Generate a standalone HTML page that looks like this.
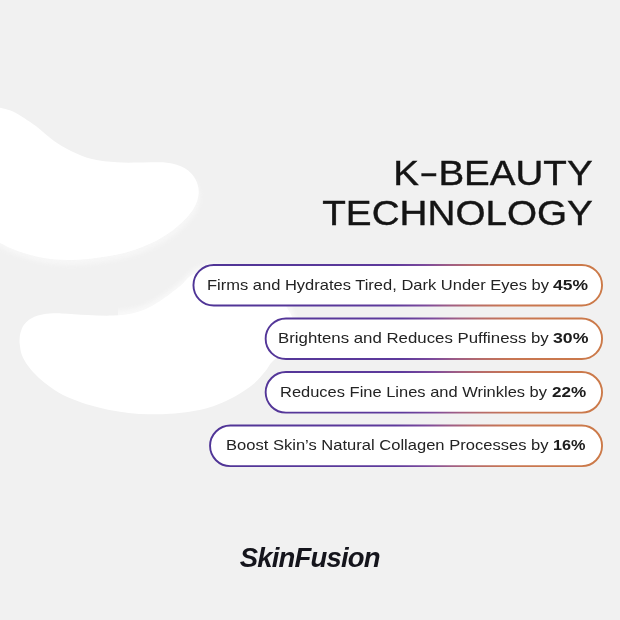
<!DOCTYPE html>
<html><head><meta charset="utf-8">
<style>
*{margin:0;padding:0;box-sizing:border-box}
html,body{width:620px;height:620px;overflow:hidden;background:#f1f1f1}
body{position:relative;font-family:"Liberation Sans",sans-serif;color:#1a1a1a}
svg.bg{position:absolute;left:0;top:0}
.t{position:absolute;font-size:35.7px;line-height:40px;color:#141414;-webkit-text-stroke:.4px #141414;white-space:nowrap;transform-origin:right top}
.t .d{display:inline-block;width:18px;text-align:center}
.t .d i{display:inline-block;font-style:normal;transform:scale(1.5,.95);position:relative;left:.3px;top:.6px}
.x{position:absolute;font-size:15px;line-height:20px;color:#232323;white-space:nowrap;transform-origin:left top}
.x.b{font-weight:700;color:#1c1c1c}
.logo{position:absolute;left:239.8px;top:542px;font-size:27.5px;line-height:32px;font-weight:700;font-style:italic;letter-spacing:-.82px;color:#15151c;white-space:nowrap}
</style></head><body>
<svg class="bg" width="620" height="620" viewBox="0 0 620 620">
<defs><filter id="bl" x="-20%" y="-20%" width="140%" height="140%"><feGaussianBlur stdDeviation="2.2"/></filter><clipPath id="cr"><rect x="118" y="240" width="200" height="90"/></clipPath></defs>
<path d="M-10.0 106.0 C-8.3 106.3 -4.0 106.7 0.0 107.7 C4.0 108.7 8.1 109.0 14.0 112.0 C19.9 115.0 29.0 121.1 35.5 125.8 C42.0 130.5 47.1 136.1 53.0 140.3 C58.9 144.5 64.5 147.9 71.0 151.0 C77.5 154.1 84.3 157.1 92.0 159.0 C99.7 160.9 108.7 161.7 117.0 162.3 C125.3 162.9 133.7 162.5 142.0 162.6 C150.3 162.7 159.9 161.9 167.0 162.8 C174.1 163.7 179.8 165.4 184.5 168.0 C189.2 170.6 192.6 174.3 195.0 178.5 C197.4 182.7 199.0 187.9 198.7 193.0 C198.4 198.1 196.9 203.4 193.4 209.0 C189.9 214.6 183.6 221.3 177.4 226.6 C171.2 231.9 164.3 236.8 156.0 241.0 C147.7 245.2 137.2 249.2 127.8 252.0 C118.4 254.8 108.9 256.2 99.4 257.5 C89.9 258.8 80.5 259.9 71.0 260.0 C61.5 260.1 51.5 259.3 42.6 257.8 C33.7 256.3 24.8 253.5 17.7 251.0 C10.6 248.5 4.6 245.2 0.0 243.0 C-4.6 240.8 -8.3 238.8 -10.0 238.0 Z" fill="#fff" opacity=".4" filter="url(#bl)" transform="translate(1.5 5)"/>
<g clip-path="url(#cr)"><path d="M19.5 342.6 C19.6 341.1 19.5 336.5 20.3 333.5 C21.1 330.5 22.2 327.1 24.2 324.5 C26.1 321.9 28.8 319.7 32.0 318.0 C35.2 316.3 38.6 315.0 43.5 314.2 C48.4 313.4 54.3 313.3 61.6 313.4 C68.9 313.5 78.8 314.6 87.4 315.0 C96.0 315.4 105.2 315.9 113.0 315.5 C120.8 315.1 127.8 314.3 133.9 312.9 C140.0 311.5 144.6 309.5 149.4 307.2 C154.2 304.9 157.7 302.7 163.0 299.0 C168.3 295.3 175.9 289.4 181.0 285.2 C186.1 281.0 187.7 276.9 193.4 274.0 C199.1 271.1 205.6 267.7 215.0 268.0 C224.4 268.3 240.0 272.3 250.0 276.0 C260.0 279.7 269.0 285.0 275.0 290.0 C281.0 295.0 282.7 300.2 286.0 306.0 C289.3 311.8 294.0 318.5 295.0 325.0 C296.0 331.5 295.7 339.0 292.0 345.0 C288.3 351.0 277.4 356.7 273.0 361.0 C268.6 365.3 268.8 367.2 265.5 371.0 C262.2 374.8 258.2 380.0 253.5 384.0 C248.8 388.0 242.8 391.8 237.5 395.0 C232.2 398.2 226.9 400.7 221.5 403.0 C216.1 405.3 210.6 407.2 205.0 408.7 C199.4 410.2 193.8 411.1 188.0 412.0 C182.2 412.9 176.4 413.4 170.0 413.8 C163.6 414.2 156.3 414.4 149.4 414.3 C142.5 414.2 135.6 413.8 128.7 413.0 C121.8 412.2 114.9 411.1 108.0 409.7 C101.1 408.3 94.3 406.6 87.4 404.5 C80.5 402.4 72.8 399.6 66.8 396.8 C60.8 394.0 56.0 390.9 51.3 387.7 C46.6 384.5 42.3 381.0 38.4 377.4 C34.5 373.8 30.8 369.7 28.0 365.8 C25.2 361.9 23.0 358.1 21.6 354.2 C20.2 350.3 19.9 344.5 19.5 342.6 Z" fill="#fff" opacity=".5" filter="url(#bl)" transform="translate(1 -5)"/></g>
<path d="M-10.0 106.0 C-8.3 106.3 -4.0 106.7 0.0 107.7 C4.0 108.7 8.1 109.0 14.0 112.0 C19.9 115.0 29.0 121.1 35.5 125.8 C42.0 130.5 47.1 136.1 53.0 140.3 C58.9 144.5 64.5 147.9 71.0 151.0 C77.5 154.1 84.3 157.1 92.0 159.0 C99.7 160.9 108.7 161.7 117.0 162.3 C125.3 162.9 133.7 162.5 142.0 162.6 C150.3 162.7 159.9 161.9 167.0 162.8 C174.1 163.7 179.8 165.4 184.5 168.0 C189.2 170.6 192.6 174.3 195.0 178.5 C197.4 182.7 199.0 187.9 198.7 193.0 C198.4 198.1 196.9 203.4 193.4 209.0 C189.9 214.6 183.6 221.3 177.4 226.6 C171.2 231.9 164.3 236.8 156.0 241.0 C147.7 245.2 137.2 249.2 127.8 252.0 C118.4 254.8 108.9 256.2 99.4 257.5 C89.9 258.8 80.5 259.9 71.0 260.0 C61.5 260.1 51.5 259.3 42.6 257.8 C33.7 256.3 24.8 253.5 17.7 251.0 C10.6 248.5 4.6 245.2 0.0 243.0 C-4.6 240.8 -8.3 238.8 -10.0 238.0 Z" fill="#fff"/>
<path d="M19.5 342.6 C19.6 341.1 19.5 336.5 20.3 333.5 C21.1 330.5 22.2 327.1 24.2 324.5 C26.1 321.9 28.8 319.7 32.0 318.0 C35.2 316.3 38.6 315.0 43.5 314.2 C48.4 313.4 54.3 313.3 61.6 313.4 C68.9 313.5 78.8 314.6 87.4 315.0 C96.0 315.4 105.2 315.9 113.0 315.5 C120.8 315.1 127.8 314.3 133.9 312.9 C140.0 311.5 144.6 309.5 149.4 307.2 C154.2 304.9 157.7 302.7 163.0 299.0 C168.3 295.3 175.9 289.4 181.0 285.2 C186.1 281.0 187.7 276.9 193.4 274.0 C199.1 271.1 205.6 267.7 215.0 268.0 C224.4 268.3 240.0 272.3 250.0 276.0 C260.0 279.7 269.0 285.0 275.0 290.0 C281.0 295.0 282.7 300.2 286.0 306.0 C289.3 311.8 294.0 318.5 295.0 325.0 C296.0 331.5 295.7 339.0 292.0 345.0 C288.3 351.0 277.4 356.7 273.0 361.0 C268.6 365.3 268.8 367.2 265.5 371.0 C262.2 374.8 258.2 380.0 253.5 384.0 C248.8 388.0 242.8 391.8 237.5 395.0 C232.2 398.2 226.9 400.7 221.5 403.0 C216.1 405.3 210.6 407.2 205.0 408.7 C199.4 410.2 193.8 411.1 188.0 412.0 C182.2 412.9 176.4 413.4 170.0 413.8 C163.6 414.2 156.3 414.4 149.4 414.3 C142.5 414.2 135.6 413.8 128.7 413.0 C121.8 412.2 114.9 411.1 108.0 409.7 C101.1 408.3 94.3 406.6 87.4 404.5 C80.5 402.4 72.8 399.6 66.8 396.8 C60.8 394.0 56.0 390.9 51.3 387.7 C46.6 384.5 42.3 381.0 38.4 377.4 C34.5 373.8 30.8 369.7 28.0 365.8 C25.2 361.9 23.0 358.1 21.6 354.2 C20.2 350.3 19.9 344.5 19.5 342.6 Z" fill="#fff"/>
<linearGradient id="g264" gradientUnits="userSpaceOnUse" x1="192.1" y1="0" x2="603.1" y2="0"><stop offset="0" stop-color="#4e3496"/><stop offset=".49" stop-color="#5e3a9c"/><stop offset=".567" stop-color="#7c4a9c"/><stop offset=".628" stop-color="#a05e84"/><stop offset=".689" stop-color="#b86c68"/><stop offset=".76" stop-color="#c87652"/><stop offset="1" stop-color="#cc7a48"/></linearGradient><rect x="193.45" y="264.95" width="408.6" height="40.6" rx="20.3" fill="#fff" stroke="url(#g264)" stroke-width="1.9"/>
<linearGradient id="g317" gradientUnits="userSpaceOnUse" x1="200.0" y1="0" x2="611.0" y2="0"><stop offset="0" stop-color="#4e3496"/><stop offset=".49" stop-color="#5e3a9c"/><stop offset=".567" stop-color="#7c4a9c"/><stop offset=".628" stop-color="#a05e84"/><stop offset=".689" stop-color="#b86c68"/><stop offset=".76" stop-color="#c87652"/><stop offset="1" stop-color="#cc7a48"/></linearGradient><rect x="265.65" y="318.45" width="336.40000000000003" height="40.6" rx="20.3" fill="#fff" stroke="url(#g317)" stroke-width="1.9"/>
<linearGradient id="g371" gradientUnits="userSpaceOnUse" x1="200.0" y1="0" x2="611.0" y2="0"><stop offset="0" stop-color="#4e3496"/><stop offset=".49" stop-color="#5e3a9c"/><stop offset=".567" stop-color="#7c4a9c"/><stop offset=".628" stop-color="#a05e84"/><stop offset=".689" stop-color="#b86c68"/><stop offset=".76" stop-color="#c87652"/><stop offset="1" stop-color="#cc7a48"/></linearGradient><rect x="265.65" y="372.05" width="336.40000000000003" height="40.6" rx="20.3" fill="#fff" stroke="url(#g371)" stroke-width="1.9"/>
<linearGradient id="g424" gradientUnits="userSpaceOnUse" x1="193.9" y1="0" x2="604.9" y2="0"><stop offset="0" stop-color="#4e3496"/><stop offset=".49" stop-color="#5e3a9c"/><stop offset=".567" stop-color="#7c4a9c"/><stop offset=".628" stop-color="#a05e84"/><stop offset=".689" stop-color="#b86c68"/><stop offset=".76" stop-color="#c87652"/><stop offset="1" stop-color="#cc7a48"/></linearGradient><rect x="210.04999999999998" y="425.55" width="392.0" height="40.6" rx="20.3" fill="#fff" stroke="url(#g424)" stroke-width="1.9"/>
</svg>
<div class="t" id="t1" style="right:27.8px;top:152.8px;transform:scaleX(1.08)">K<span class="d"><i>-</i></span>BEAUTY</div>
<div class="t" id="t2" style="right:26.9px;top:192.8px;transform:scaleX(1.083)">TECHNOLOGY</div>
<div class="x" style="left:206.5px;top:274.5px;transform:scaleX(1.1)">Firms and Hydrates Tired, Dark Under Eyes by</div>
<div class="x b" style="left:553.4px;top:274.5px;transform:scaleX(1.165)">45%</div>
<div class="x" style="left:278.3px;top:328.0px;transform:scaleX(1.121)">Brightens and Reduces Puffiness by</div>
<div class="x b" style="left:552.7px;top:328.0px;transform:scaleX(1.18)">30%</div>
<div class="x" style="left:279.8px;top:381.6px;transform:scaleX(1.098)">Reduces Fine Lines and Wrinkles by</div>
<div class="x b" style="left:551.9px;top:381.6px;transform:scaleX(1.14)">22%</div>
<div class="x" style="left:225.9px;top:435.1px;transform:scaleX(1.103)">Boost Skin’s Natural Collagen Processes by</div>
<div class="x b" style="left:552.7px;top:435.1px;transform:scaleX(1.083)">16%</div>
<div class="logo">SkinFusion</div>
</body></html>
